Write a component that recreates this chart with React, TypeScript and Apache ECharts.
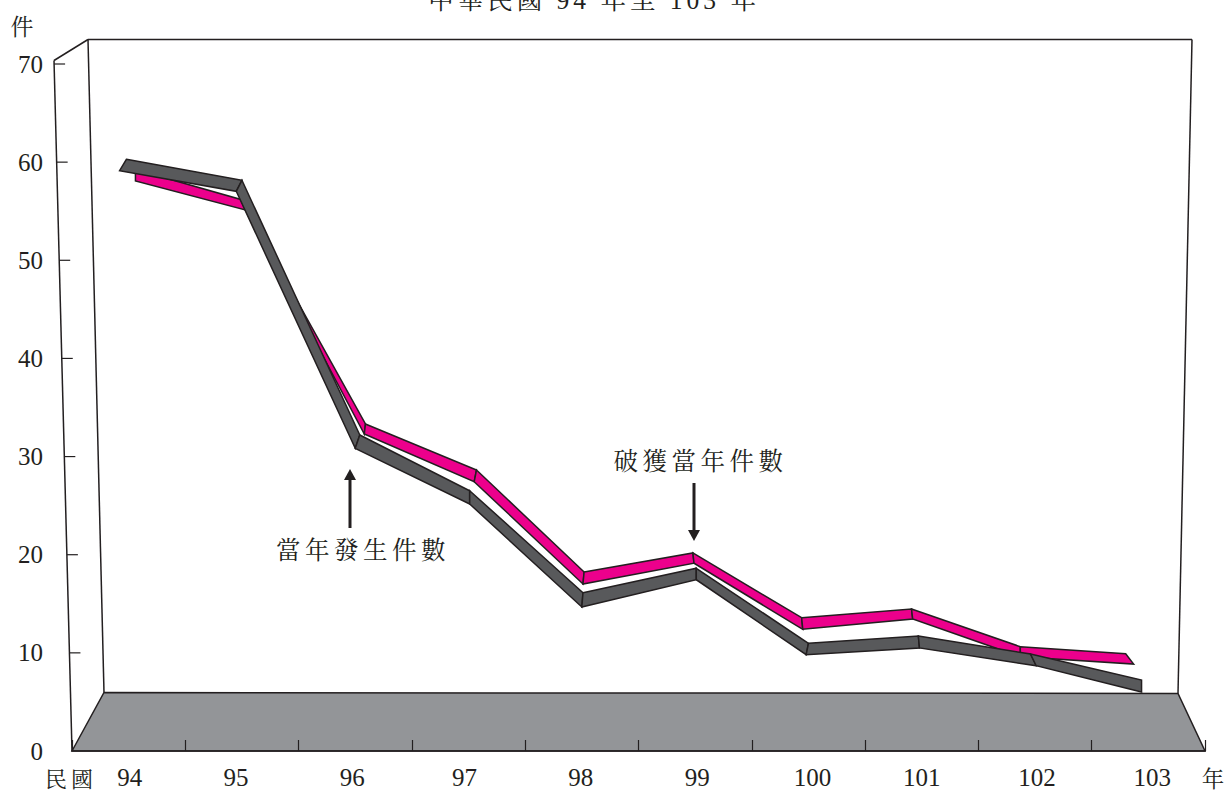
import React, { useEffect, useRef } from "react";
import * as echarts from "echarts";

const years = ["94", "95", "96", "97", "98", "99", "100", "101", "102", "103"];
const yTicks = [0, 10, 20, 30, 40, 50, 60, 70];

// 當年發生件數 (magenta ribbon): the ribbon's upper and lower edge
const occurredTopX = [94.06, 94.99, 96.09, 97.07, 98.02, 98.98, 99.94, 100.91, 101.87, 102.8];
const occurredTopV = [59.25, 56.2, 33.32, 28.63, 18.24, 20.18, 13.58, 14.47, 10.63, 9.91];
const occurredLowX = [94.06, 95.03, 96.08, 97.05, 98.01, 98.99, 99.95, 100.92, 101.87, 102.87];
const occurredLowV = [58.08, 55.13, 32.3, 27.44, 17.02, 19.13, 12.4, 13.45, 9.61, 8.86];

// 破獲當年件數 (grey ribbon)
const solvedTopX = [93.98, 95.0, 96.04, 97.01, 98.01, 99.01, 100.0, 100.97, 101.96, 102.94];
const solvedTopV = [60.29, 58.15, 32.2, 26.52, 16.13, 18.62, 10.97, 11.72, 9.88, 7.23];
const solvedLowX = [93.92, 94.95, 96.0, 97.01, 98.0, 99.01, 99.98, 100.98, 102.01, 102.94];
const solvedLowV = [59.13, 57.03, 30.84, 25.17, 14.67, 17.45, 9.81, 10.5, 8.69, 6.01];

const INK = "#231f20";
const SERIF = '"Liberation Serif", "Noto Serif CJK TC", "Noto Sans CJK TC", serif';
const CJK = '"Noto Serif CJK TC", "Noto Sans CJK TC", serif';
const labelNudge = [1, -6, -3, -4, -1, 2, 4, 0, 2, 4];

function segments(tx: number[], tv: number[], lx: number[], lv: number[]) {
  return tx.slice(0, -1).map((_, i) => [tx[i], tv[i], lx[i], lv[i], tx[i + 1], tv[i + 1], lx[i + 1], lv[i + 1]]);
}

function ribbon(name: string, data: number[][], fill: string, z: number) {
  return {
    type: "custom",
    name,
    xAxisIndex: 1,
    z,
    silent: true,
    encode: { x: [0, 2, 4, 6], y: [1, 3, 5, 7] },
    data,
    clip: false,
    renderItem: (_: any, api: any) => {
      const c = (a: number, b: number) => api.coord([api.value(a), api.value(b)]);
      return {
        type: "polygon",
        shape: { points: [c(0, 1), c(4, 5), c(6, 7), c(2, 3)] },
        style: { fill, stroke: INK, lineWidth: 1.5, lineJoin: "miter" },
      };
    },
  };
}

const line = (x1: number, y1: number, x2: number, y2: number, w = 1.5) => ({
  type: "line",
  shape: { x1, y1, x2, y2 },
  style: { stroke: INK, lineWidth: w },
});
const label = (text: string, x: number, y: number, size: number) => ({
  type: "text",
  x,
  y,
  style: { text, fill: INK, font: `${size}px ${CJK}`, align: "center", verticalAlign: "middle" },
});
const arrow = (x: number, y0: number, y1: number, base: number) => [
  line(x, y0, x, base, 3),
  {
    type: "polygon",
    shape: { points: [[x, y1], [x - 6, base], [x + 6, base]] },
    style: { fill: INK },
  },
];

export default function App() {
  const ref = useRef<HTMLDivElement>(null);
  useEffect(() => {
    document.body.style.margin = "0";
    const chart = echarts.init(ref.current!, undefined, { renderer: "svg" });
    chart.setOption({
      animation: false,
      backgroundColor: "#ffffff",
      title: {
        text: "中華民國 94 年至 103 年",
        left: 589,
        top: -17,
        textAlign: "center",
        textStyle: { fontFamily: SERIF, fontSize: 25.5, fontWeight: "normal", color: INK },
      },
      grid: { left: 72, right: 22, top: 64, bottom: 40 },
      xAxis: [
        {
          type: "category",
          data: years,
          z: 6,
          axisLine: { lineStyle: { color: INK, width: 1.5 } },
          axisTick: { show: true, inside: true, length: 11, lineStyle: { color: INK, width: 1.2 } },
          axisLabel: {
            interval: 0,
            margin: 14,
            fontFamily: SERIF,
            fontSize: 25,
            color: INK,
            formatter: (v: string, i: number) => `{n${i}|${v}}`,
            rich: Object.fromEntries(
              labelNudge.map((n, i) => [
                `n${i}`,
                {
                  fontFamily: SERIF,
                  fontSize: 25,
                  color: INK,
                  padding: n >= 0 ? [0, 0, 0, 2 * n] : [0, -2 * n, 0, 0],
                },
              ])
            ),
          },
        },
        { type: "value", min: 93.5, max: 103.5, show: false },
      ],
      yAxis: {
        type: "value",
        min: 0,
        max: 70,
        interval: 10,
        axisLine: { show: false },
        axisTick: { show: false },
        splitLine: { show: false },
        axisLabel: { margin: 29, fontFamily: SERIF, fontSize: 25, color: INK },
      },
      graphic: {
        z: -1,
        elements: [
          {
            type: "polygon",
            shape: { points: [[72, 751], [104, 692.5], [1178, 693.5], [1205, 751]] },
            style: { fill: "#939598", stroke: INK, lineWidth: 1.5 },
          },
          line(54, 60.5, 72, 751),
          line(54, 60.5, 88, 39.5),
          line(88, 39.5, 1192, 39.5),
          line(88, 39.5, 104, 692.5),
          line(1192, 39.5, 1178, 693.5),
          label("件", 22, 25, 23),
          label("民國", 71, 777, 22),
          label("年", 1213, 777, 22.5),
          label("當年發生件數", 363, 548, 24.5),
          label("破獲當年件數", 700.5, 459, 24.5),
          ...arrow(350, 528, 469, 480),
          ...arrow(694, 483, 541, 530),
        ],
      },
      series: [
        {
          type: "custom",
          name: "ticks",
          xAxisIndex: 1,
          z: 3,
          silent: true,
          data: yTicks.filter((v) => v > 0).map((v) => [94, v]),
          encode: { x: 0, y: 1 },
          clip: false,
          renderItem: (_: any, api: any) => {
            const y = api.coord([api.value(0), api.value(1)])[1];
            const x = 54 + ((y - 60.5) * 18) / 690.5;
            return {
              type: "line",
              shape: { x1: x, y1: y, x2: x + 11, y2: y },
              style: { stroke: INK, lineWidth: 1.2 },
            };
          },
        },
        ribbon("當年發生件數", segments(occurredTopX, occurredTopV, occurredLowX, occurredLowV), "#ec008c", 4),
        ribbon("破獲當年件數", segments(solvedTopX, solvedTopV, solvedLowX, solvedLowV), "#58595b", 5),
      ],
    });
    return () => chart.dispose();
  }, []);
  return (
    <>
      <style>{`
        .cj text[style*="24.5px"] { letter-spacing: 4.5px; }
        .cj text[style*="22px"] { letter-spacing: 4px; }
        .cj text[style*="25.5px"] { letter-spacing: 4px; }
      `}</style>
      <div ref={ref} className="cj" style={{ width: 1227, height: 791 }} />
    </>
  );
}
